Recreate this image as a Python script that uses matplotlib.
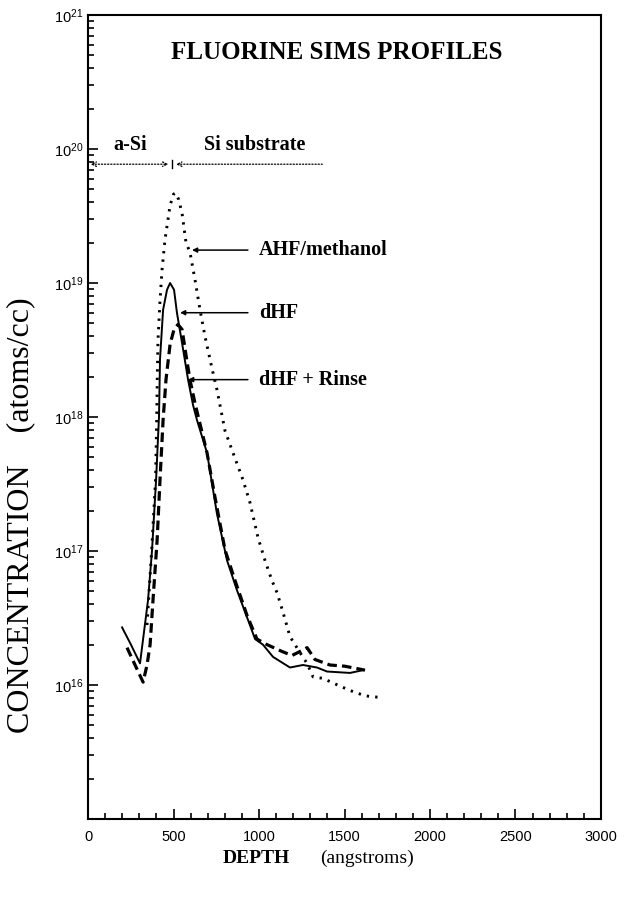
import math
import matplotlib
matplotlib.use("Agg")
import matplotlib.pyplot as plt
from matplotlib.ticker import MultipleLocator, LogLocator, FuncFormatter

# ---- data ----
depth_ahf = [345, 372, 395, 402, 405, 409, 421, 433, 450, 480, 500, 512, 530, 550, 573,
             596, 626, 655, 684, 725, 754, 801, 848, 906, 947, 994, 1035, 1076, 1105,
             1140, 1181, 1240, 1281, 1316, 1374, 1444, 1532, 1620, 1696]
conc_ahf = [2.8e16, 1.0e17, 3.4e17, 1.0e18, 1.9e18, 3.7e18, 7.4e18, 1.26e19, 2.1e19,
            3.8e19, 4.6e19, 4.7e19, 4.2e19, 3.3e19, 2.0e19, 1.7e19, 1.05e19, 6.3e18,
            4.0e18, 2.3e18, 1.6e18, 7.9e17, 5.4e17, 3.4e17, 2.3e17, 1.26e17, 8.5e16,
            6.0e16, 4.9e16, 3.5e16, 2.3e16, 1.74e16, 1.45e16, 1.15e16, 1.12e16,
            1.02e16, 9.1e15, 8.3e15, 8.1e15]

depth_dhf = [199, 251, 304, 351, 374, 398, 415, 421, 439, 462, 480, 503, 520, 556, 585,
             614, 637, 696, 754, 813, 871, 930, 977, 1023, 1082, 1181, 1257, 1339,
             1398, 1532, 1608]
conc_dhf = [2.69e16, 2.0e16, 1.45e16, 4.3e16, 1.0e17, 3.4e17, 1.0e18, 2.7e18, 6.3e18,
            8.9e18, 1.0e19, 8.9e18, 6.0e18, 3.2e18, 1.9e18, 1.23e18, 9.5e17, 5.4e17,
            1.9e17, 8.5e16, 5.1e16, 3.2e16, 2.2e16, 2.0e16, 1.62e16, 1.35e16, 1.41e16,
            1.35e16, 1.26e16, 1.23e16, 1.29e16]

depth_rinse = [228, 275, 322, 345, 363, 380, 404, 421, 439, 456, 480, 503, 526, 550, 573,
               596, 626, 696, 743, 801, 860, 930, 988, 1047, 1134, 1193, 1240, 1281,
               1327, 1415, 1503, 1620]
conc_rinse = [1.9e16, 1.41e16, 1.05e16, 1.41e16, 2.0e16, 4.3e16, 1.2e17, 3.4e17, 9.5e17,
              1.9e18, 3.5e18, 4.5e18, 4.9e18, 4.5e18, 2.9e18, 1.9e18, 1.26e18, 5.4e17,
              2.5e17, 1.02e17, 6.0e16, 3.3e16, 2.2e16, 2.0e16, 1.78e16, 1.66e16,
              1.78e16, 1.9e16, 1.55e16, 1.41e16, 1.38e16, 1.29e16]

series_labels = ["AHF/methanol", "dHF", "dHF + Rinse"]
label_tips_depth = [608, 538, 585]
label_tips_conc = [1.76e19, 6.0e18, 1.9e18]

title = "FLUORINE SIMS PROFILES"
region_labels = ["a-Si", "Si substrate"]
xticks = [0, 500, 1000, 1500, 2000, 2500, 3000]

serif = ["Liberation Serif", "DejaVu Serif"]
sans = ["Liberation Sans", "DejaVu Sans"]

plt.rcParams["mathtext.fontset"] = "custom"
plt.rcParams["mathtext.rm"] = "Liberation Sans"
plt.rcParams["mathtext.it"] = "Liberation Sans"

fig = plt.figure(figsize=(6.27, 8.98), dpi=100)
ax = fig.add_axes([0.1404, 0.0880, 0.8181, 0.8953])

ax.plot(depth_ahf, conc_ahf, color="black", lw=2.1, linestyle=(0, (0.8, 2.1)))
ax.plot(depth_dhf, conc_dhf, color="black", lw=1.4, linestyle="-")
ax.plot(depth_rinse, conc_rinse, color="black", lw=2.3, linestyle=(0, (3.0, 1.6)))

ax.set_yscale("log")
ax.set_xlim(0, 3000)
ax.set_ylim(1e15, 1e21)

ax.set_xticks(xticks)
ax.xaxis.set_minor_locator(MultipleLocator(100))
ax.yaxis.set_major_locator(LogLocator(base=10, numticks=10))
ax.yaxis.set_minor_locator(LogLocator(base=10, subs=range(2, 10), numticks=20))


def yfmt(v, pos):
    e = int(round(math.log10(v)))
    if e < 16:
        return ""
    return r"$10^{%d}$" % e


ax.yaxis.set_major_formatter(FuncFormatter(yfmt))
ax.tick_params(axis="both", which="both", direction="in", top=False, right=False,
               width=1.2)
ax.tick_params(axis="both", which="major", length=7, labelsize=10.5)
ax.tick_params(axis="both", which="minor", length=4)
ax.tick_params(axis="x", which="major", pad=8)
for lab in ax.get_xticklabels() + ax.get_yticklabels():
    lab.set_family(sans)
for s in ax.spines.values():
    s.set_linewidth(1.5)

# title
ax.text(1456, 10 ** 20.72, title, family=serif, weight="bold", fontsize=18,
        ha="center", va="center")

# region annotation
yreg = 7.7e19
ax.text(246, 10 ** 20.03, region_labels[0], family=serif, weight="bold", fontsize=14.5,
        ha="center", va="center")
ax.text(977, 10 ** 20.03, region_labels[1], family=serif, weight="bold", fontsize=14.5,
        ha="center", va="center")
ax.annotate("", xy=(470, yreg), xytext=(15, yreg),
            arrowprops=dict(arrowstyle="<->", linestyle=(0, (1, 1.5)), lw=0.9,
                            color="black", shrinkA=0, shrinkB=0, mutation_scale=8))
ax.annotate("", xy=(1370, yreg), xytext=(515, yreg),
            arrowprops=dict(arrowstyle="<-", linestyle=(0, (1, 1.5)), lw=0.9,
                            color="black", shrinkA=0, shrinkB=0, mutation_scale=8))
ax.plot([492, 492], [yreg * 0.93, yreg * 1.07], color="black", lw=1.0)

# series labels with arrows
for lab, tx, ty in zip(series_labels, label_tips_depth, label_tips_conc):
    ax.annotate("", xy=(tx, ty), xytext=(935, ty),
                arrowprops=dict(arrowstyle="-|>", lw=1.1, color="black",
                                shrinkA=0, shrinkB=0, mutation_scale=7))
    ax.text(1000, ty, lab, family=serif, weight="bold", fontsize=14.5,
            ha="left", va="center")

# axis labels
fig.text(0.4625, 0.0445, "DEPTH", family=serif, weight="bold", fontsize=14,
         ha="right", va="center")
fig.text(0.510, 0.0445, "(angstroms)", family=serif, fontsize=14,
         ha="left", va="center")
fig.text(0.033, 0.4265, "CONCENTRATION    (atoms/cc)", family=serif, fontsize=23,
         rotation=90, ha="center", va="center")

fig.savefig("out.png", dpi=100)
